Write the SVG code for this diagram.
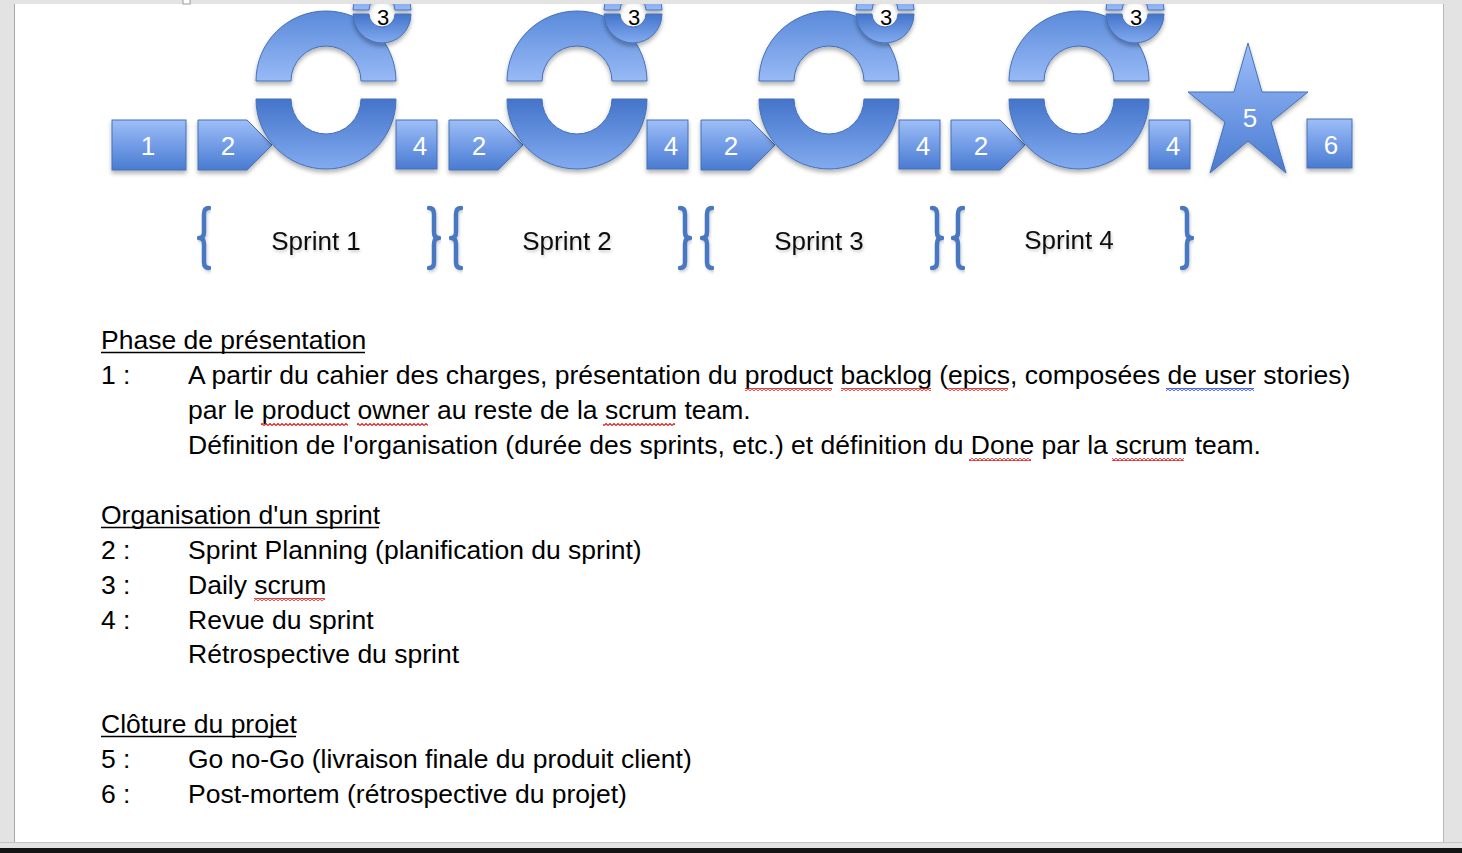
<svg xmlns="http://www.w3.org/2000/svg" width="1462" height="853" viewBox="0 0 1462 853">
<defs>
<style>
.shape{stroke:#4470b8;stroke-width:1;filter:url(#shadow)}
.box{fill:url(#gBox)}
.ringT{fill:url(#gRingT)}
.ringB{fill:url(#gRingB)}
.lbl{font-family:"Liberation Sans",Arial,sans-serif;font-size:26px;fill:#fff;text-anchor:middle}
.lbl3{font-family:"Liberation Sans",Arial,sans-serif;font-size:22px;fill:#000;text-anchor:middle}
.brace{fill:none;stroke:#4a78c2;stroke-width:4.5;stroke-linecap:round;stroke-linejoin:round;filter:url(#softshadow)}
.sprint{font-family:"Liberation Sans",Arial,sans-serif;font-size:26px;fill:#111;text-anchor:middle;filter:url(#softshadow)}
.body{font-family:"Liberation Sans",Arial,sans-serif;font-size:26.5px;fill:#000}
.ul{stroke:#000;stroke-width:1.6}
.wr{fill:url(#wavyRed)}
.wb{fill:url(#wavyBlue)}
</style>
<linearGradient id="gBox" x1="0" y1="0" x2="0" y2="1">
<stop offset="0" stop-color="#9ebef7"/>
<stop offset="0.5" stop-color="#729ce6"/>
<stop offset="1" stop-color="#4a7bd1"/>
</linearGradient>
<linearGradient id="gRingT" x1="0" y1="0" x2="0" y2="1">
<stop offset="0" stop-color="#5a8ada"/>
<stop offset="1" stop-color="#98baf6"/>
</linearGradient>
<linearGradient id="gRingB" x1="0" y1="0" x2="0" y2="1">
<stop offset="0" stop-color="#4474ca"/>
<stop offset="1" stop-color="#82abf0"/>
</linearGradient>
<filter id="shadow" x="-20%" y="-20%" width="140%" height="150%">
<feDropShadow dx="0" dy="3" stdDeviation="2" flood-color="#000" flood-opacity="0.3"/>
</filter>
<filter id="softshadow" x="-20%" y="-20%" width="140%" height="150%">
<feDropShadow dx="1" dy="2" stdDeviation="1.5" flood-color="#000" flood-opacity="0.2"/>
</filter>
<pattern id="wavyRed" patternUnits="userSpaceOnUse" width="4" height="3">
<polyline points="0,2.5 2,0.5 4,2.5" fill="none" stroke="#e01818" stroke-width="1.1"/>
</pattern>
<pattern id="wavyBlue" patternUnits="userSpaceOnUse" width="4" height="3">
<polyline points="0,2.5 2,0.5 4,2.5" fill="none" stroke="#2040e0" stroke-width="1.1"/>
</pattern>
<clipPath id="page"><rect x="15" y="4" width="1428" height="838"/></clipPath>
</defs>

<!-- window / page background -->
<rect x="0" y="0" width="1462" height="853" fill="#e3e3e3"/>
<rect x="15" y="4" width="1428" height="838" fill="#ffffff"/>
<line x1="14.5" y1="4" x2="14.5" y2="842" stroke="#a8a8a8" stroke-width="1"/>
<line x1="1443.5" y1="4" x2="1443.5" y2="842" stroke="#b8b8b8" stroke-width="1"/>
<line x1="0" y1="842.5" x2="1462" y2="842.5" stroke="#c4c4c4" stroke-width="1"/>
<rect x="0" y="848" width="1462" height="5" fill="#141414"/>
<rect x="183" y="-3" width="7" height="7" fill="#fff" stroke="#9a9a9a" stroke-width="1"/>

<g clip-path="url(#page)">
<g id="connectors"></g>

<g id="step1">
<rect class="shape box" x="112" y="120" width="74" height="50"/>
<text class="lbl" x="148" y="155">1</text>
</g>

<!-- Sprint 1 -->
<g id="sprint1-planning">
<path class="shape box" d="M198,120 L247,120 L272,145 L247,170 L198,170 Z"/>
<text class="lbl" x="228" y="155">2</text>
</g>
<g id="sprint1-cycle">
<path class="shape ringT" d="M256,81 A70,70 0 0 1 396,81 L361,81 A35,35 0 0 0 291,81 Z"/>
<path class="shape ringB" d="M256,99 A70,70 0 0 0 396,99 L361,99 A35,35 0 0 1 291,99 Z"/>
</g>
<g id="sprint1-daily">
<circle cx="382" cy="15" r="13" fill="#fff"/>
<path class="shape ringT" d="M353,10 A29,29 0 0 1 411,10 L395,10 A13,13 0 0 0 369,10 Z"/>
<path class="shape ringB" d="M353,14 A29,29 0 0 0 411,14 L395,14 A13,13 0 0 1 369,14 Z"/>
<text class="lbl3" x="383" y="25">3</text>
</g>
<g id="sprint1-review">
<rect class="shape box" x="396" y="120" width="41" height="49"/>
<text class="lbl" x="420" y="155">4</text>
</g>

<!-- Sprint 2 -->
<g id="sprint2-planning" transform="translate(251,0)">
<path class="shape box" d="M198,120 L247,120 L272,145 L247,170 L198,170 Z"/>
<text class="lbl" x="228" y="155">2</text>
</g>
<g id="sprint2-cycle" transform="translate(251,0)">
<path class="shape ringT" d="M256,81 A70,70 0 0 1 396,81 L361,81 A35,35 0 0 0 291,81 Z"/>
<path class="shape ringB" d="M256,99 A70,70 0 0 0 396,99 L361,99 A35,35 0 0 1 291,99 Z"/>
</g>
<g id="sprint2-daily" transform="translate(251,0)">
<circle cx="382" cy="15" r="13" fill="#fff"/>
<path class="shape ringT" d="M353,10 A29,29 0 0 1 411,10 L395,10 A13,13 0 0 0 369,10 Z"/>
<path class="shape ringB" d="M353,14 A29,29 0 0 0 411,14 L395,14 A13,13 0 0 1 369,14 Z"/>
<text class="lbl3" x="383" y="25">3</text>
</g>
<g id="sprint2-review" transform="translate(251,0)">
<rect class="shape box" x="396" y="120" width="41" height="49"/>
<text class="lbl" x="420" y="155">4</text>
</g>

<!-- Sprint 3 -->
<g id="sprint3-planning" transform="translate(503,0)">
<path class="shape box" d="M198,120 L247,120 L272,145 L247,170 L198,170 Z"/>
<text class="lbl" x="228" y="155">2</text>
</g>
<g id="sprint3-cycle" transform="translate(503,0)">
<path class="shape ringT" d="M256,81 A70,70 0 0 1 396,81 L361,81 A35,35 0 0 0 291,81 Z"/>
<path class="shape ringB" d="M256,99 A70,70 0 0 0 396,99 L361,99 A35,35 0 0 1 291,99 Z"/>
</g>
<g id="sprint3-daily" transform="translate(503,0)">
<circle cx="382" cy="15" r="13" fill="#fff"/>
<path class="shape ringT" d="M353,10 A29,29 0 0 1 411,10 L395,10 A13,13 0 0 0 369,10 Z"/>
<path class="shape ringB" d="M353,14 A29,29 0 0 0 411,14 L395,14 A13,13 0 0 1 369,14 Z"/>
<text class="lbl3" x="383" y="25">3</text>
</g>
<g id="sprint3-review" transform="translate(503,0)">
<rect class="shape box" x="396" y="120" width="41" height="49"/>
<text class="lbl" x="420" y="155">4</text>
</g>

<!-- Sprint 4 -->
<g id="sprint4-planning" transform="translate(753,0)">
<path class="shape box" d="M198,120 L247,120 L272,145 L247,170 L198,170 Z"/>
<text class="lbl" x="228" y="155">2</text>
</g>
<g id="sprint4-cycle" transform="translate(753,0)">
<path class="shape ringT" d="M256,81 A70,70 0 0 1 396,81 L361,81 A35,35 0 0 0 291,81 Z"/>
<path class="shape ringB" d="M256,99 A70,70 0 0 0 396,99 L361,99 A35,35 0 0 1 291,99 Z"/>
</g>
<g id="sprint4-daily" transform="translate(753,0)">
<circle cx="382" cy="15" r="13" fill="#fff"/>
<path class="shape ringT" d="M353,10 A29,29 0 0 1 411,10 L395,10 A13,13 0 0 0 369,10 Z"/>
<path class="shape ringB" d="M353,14 A29,29 0 0 0 411,14 L395,14 A13,13 0 0 1 369,14 Z"/>
<text class="lbl3" x="383" y="25">3</text>
</g>
<g id="sprint4-review" transform="translate(753,0)">
<rect class="shape box" x="396" y="120" width="41" height="49"/>
<text class="lbl" x="420" y="155">4</text>
</g>

<g id="step5">
<polygon class="shape box" points="1248,43 1262,92 1308,92 1271,122 1286,173 1248,141 1210,173 1225,122 1188,92 1234,92"/>
<text class="lbl" x="1250" y="127">5</text>
</g>
<g id="step6">
<rect class="shape box" x="1307" y="119" width="45" height="49"/>
<text class="lbl" x="1331" y="154">6</text>
</g>
</g>

<!-- sprint braces and labels -->
<g id="braces">
<path class="brace" d="M209,208 Q204,208 204,214 L204,232 Q204,238 199,238 Q204,238 204,244 L204,262 Q204,268 209,268"/>
<path class="brace" d="M429,208 Q434,208 434,214 L434,232 Q434,238 439,238 Q434,238 434,244 L434,262 Q434,268 429,268"/>
<path class="brace" d="M461,208 Q456,208 456,214 L456,232 Q456,238 451,238 Q456,238 456,244 L456,262 Q456,268 461,268"/>
<path class="brace" d="M680,208 Q685,208 685,214 L685,232 Q685,238 690,238 Q685,238 685,244 L685,262 Q685,268 680,268"/>
<path class="brace" d="M712,208 Q707,208 707,214 L707,232 Q707,238 702,238 Q707,238 707,244 L707,262 Q707,268 712,268"/>
<path class="brace" d="M932,208 Q937,208 937,214 L937,232 Q937,238 942,238 Q937,238 937,244 L937,262 Q937,268 932,268"/>
<path class="brace" d="M963,208 Q958,208 958,214 L958,232 Q958,238 953,238 Q958,238 958,244 L958,262 Q958,268 963,268"/>
<path class="brace" d="M1182,208 Q1187,208 1187,214 L1187,232 Q1187,238 1192,238 Q1187,238 1187,244 L1187,262 Q1187,268 1182,268"/>
</g>
<g id="sprint-labels">
<text class="sprint" x="316" y="250">Sprint 1</text>
<text class="sprint" x="567" y="250">Sprint 2</text>
<text class="sprint" x="819" y="250">Sprint 3</text>
<text class="sprint" x="1069" y="249">Sprint 4</text>
</g>

<!-- legend text -->
<g id="legend">
<text class="body" x="101" y="349">Phase de présentation</text>
<line class="ul" x1="101" y1="352.5" x2="365" y2="352.5"/>
<text class="body" x="101" y="384">1 :</text>
<text class="body" x="188" y="384">A partir du cahier des charges, présentation du product backlog (epics, composées de user stories)</text>
<text class="body" x="188" y="419">par le product owner au reste de la scrum team.</text>
<text class="body" x="188" y="454">Définition de l'organisation (durée des sprints, etc.) et définition du Done par la scrum team.</text>

<text class="body" x="101" y="524">Organisation d'un sprint</text>
<line class="ul" x1="101" y1="527.5" x2="379" y2="527.5"/>
<text class="body" x="101" y="559">2 :</text>
<text class="body" x="188" y="559">Sprint Planning (planification du sprint)</text>
<text class="body" x="101" y="594">3 :</text>
<text class="body" x="188" y="594">Daily scrum</text>
<text class="body" x="101" y="629">4 :</text>
<text class="body" x="188" y="629">Revue du sprint</text>
<text class="body" x="188" y="663">Rétrospective du sprint</text>

<text class="body" x="101" y="733">Clôture du projet</text>
<line class="ul" x1="101" y1="736.5" x2="296" y2="736.5"/>
<text class="body" x="101" y="768">5 :</text>
<text class="body" x="188" y="768">Go no-Go (livraison finale du produit client)</text>
<text class="body" x="101" y="803">6 :</text>
<text class="body" x="188" y="803">Post-mortem (rétrospective du projet)</text>
</g>

<!-- spell-check squiggles -->
<g id="squiggles">
<rect class="wr" x="745" y="388" width="87" height="3"/>
<rect class="wr" x="841" y="388" width="90" height="3"/>
<rect class="wr" x="947" y="388" width="61" height="3"/>
<rect class="wb" x="1166" y="388" width="88" height="3"/>
<rect class="wr" x="261" y="423" width="87" height="3"/>
<rect class="wr" x="357" y="423" width="71" height="3"/>
<rect class="wr" x="603" y="423" width="72" height="3"/>
<rect class="wr" x="969" y="458" width="62" height="3"/>
<rect class="wr" x="1112" y="458" width="72" height="3"/>
<rect class="wr" x="254" y="598" width="71" height="3"/>
</g>
</svg>
